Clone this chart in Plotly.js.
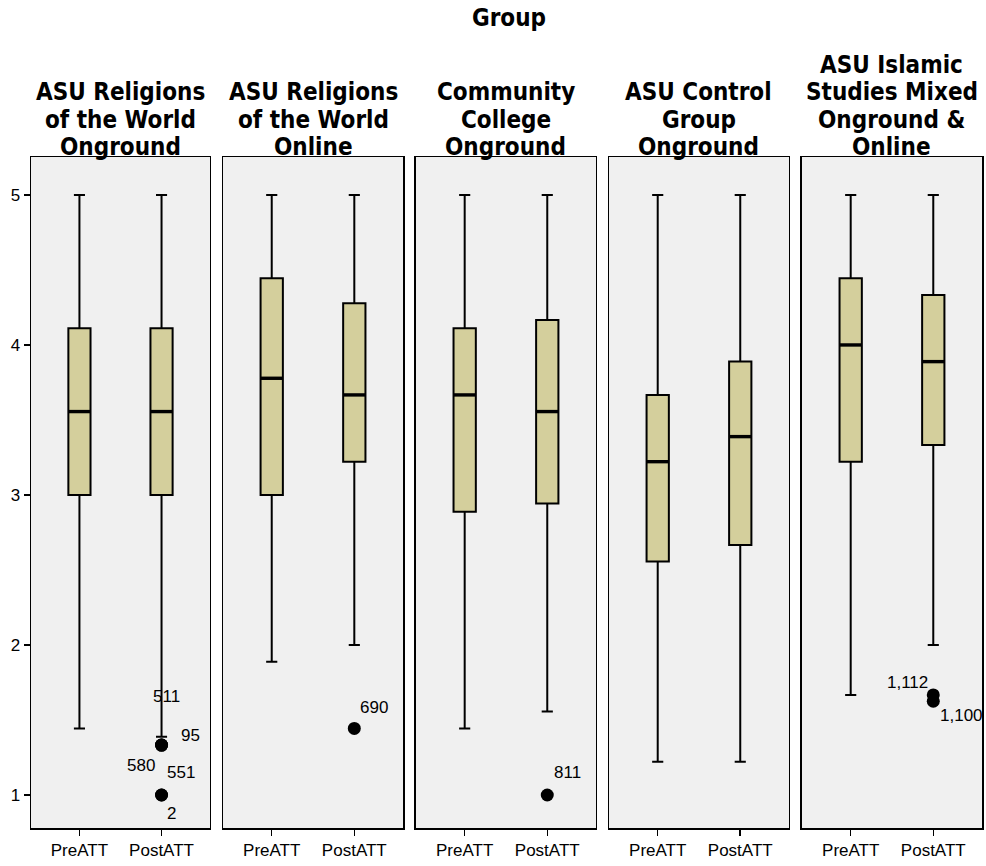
<!DOCTYPE html>
<html>
<head>
<meta charset="utf-8">
<script src="https://cdn.plot.ly/plotly-3.0.1.min.js"></script>
<style>
  html, body { margin: 0; padding: 0; background: #ffffff; }
  #chart { width: 986px; height: 866px; }
</style>
</head>
<body>
<div id="chart"></div>
<script>
// Attitude scores (PreATT / PostATT) by study group
const groups = [
  'ASU Religions<br>of the World<br>Onground',
  'ASU Religions<br>of the World<br>Online',
  'Community<br>College<br>Onground',
  'ASU Control<br>Group<br>Onground',
  'ASU Islamic<br>Studies Mixed<br>Onground &<br>Online'
];
const variables = ['PreATT', 'PostATT'];

// Box statistics for PreATT
const preLower  = [1.444, 1.889, 1.444, 1.222, 1.667];
const preQ1     = [3.000, 3.000, 2.889, 2.556, 3.222];
const preMedian = [3.556, 3.778, 3.667, 3.222, 4.000];
const preQ3     = [4.111, 4.444, 4.111, 3.667, 4.444];
const preUpper  = [5.000, 5.000, 5.000, 5.000, 5.000];

// Box statistics for PostATT
const postLower  = [1.389, 2.000, 1.556, 1.222, 2.000];
const postQ1     = [3.000, 3.222, 2.944, 2.667, 3.333];
const postMedian = [3.556, 3.667, 3.556, 3.389, 3.889];
const postQ3     = [4.111, 4.278, 4.167, 3.889, 4.333];
const postUpper  = [5.000, 5.000, 5.000, 5.000, 5.000];

// Outlying cases: panel index, variable index, value, case number
const outGroup = [0, 0, 0, 0, 0, 1, 2, 4, 4];
const outVar   = [1, 1, 1, 1, 1, 1, 1, 1, 1];
const outValue = [1.333, 1.333, 1.333, 1.000, 1.000, 1.444, 1.000, 1.667, 1.625];
const outCase  = ['511', '95', '580', '551', '2', '690', '811', '1,112', '1,100'];

// Label offsets (px) for each case number around its marker
const labelShift = [
  [5, 49], [29, 10], [-21, -20], [19, 23], [10, -18],
  [20, 21], [20, 23], [-26, 12], [28, -14]
];

const yRange = [0.78, 5.253];
const boxWidth = 0.27;
const fill = '#D4CF9C';
const textFont = 'DejaVu Sans Condensed, Liberation Sans Narrow, DejaVu Sans, sans-serif';
const tickFont = 'Liberation Sans, Arial, sans-serif';
const headingLineGap = 27.5;

// Panel domains in paper coordinates
const domains = [
  [0.0000, 0.1882],
  [0.2019, 0.3912],
  [0.4048, 0.5941],
  [0.6078, 0.7970],
  [0.8107, 1.0000]
];

const traces = [];
const layout = {
  width: 986, height: 866,
  margin: { l: 31, r: 4, t: 157, b: 38 },
  paper_bgcolor: '#ffffff',
  plot_bgcolor: '#F0F0F0',
  showlegend: false,
  annotations: []
};

groups.forEach((g, i) => {
  const xa = i === 0 ? 'x' : 'x' + (i + 1);
  const ya = i === 0 ? 'y' : 'y' + (i + 1);
  const stats = [
    [preLower[i], preQ1[i], preMedian[i], preQ3[i], preUpper[i]],
    [postLower[i], postQ1[i], postMedian[i], postQ3[i], postUpper[i]]
  ];
  stats.forEach((s, v) => {
    traces.push({
      type: 'box', xaxis: xa, yaxis: ya,
      x: [v],
      lowerfence: [s[0]], q1: [s[1]], median: [s[2]], q3: [s[3]], upperfence: [s[4]],
      width: boxWidth, whiskerwidth: 0.5,
      fillcolor: fill,
      line: { color: '#000000', width: 2 },
      boxpoints: false, hoverinfo: 'skip'
    });
    // Heavier median bar
    traces.push({
      type: 'scatter', mode: 'lines', xaxis: xa, yaxis: ya,
      x: [v - boxWidth / 2, v + boxWidth / 2], y: [s[2], s[2]],
      line: { color: '#000000', width: 3.4 }, hoverinfo: 'skip'
    });
  });

  // Outlier markers for this panel
  const ox = [], oy = [];
  outGroup.forEach((p, k) => {
    if (p === i) { ox.push(outVar[k]); oy.push(outValue[k]); }
  });
  if (ox.length) {
    traces.push({
      type: 'scatter', mode: 'markers', xaxis: xa, yaxis: ya,
      x: ox, y: oy,
      marker: { color: '#000000', size: 13 }, hoverinfo: 'skip'
    });
  }

  layout[i === 0 ? 'xaxis' : 'xaxis' + (i + 1)] = {
    domain: domains[i], anchor: ya,
    range: [-0.59, 1.59],
    tickvals: [0, 1], ticktext: variables,
    ticks: 'outside', ticklen: 6, tickwidth: 1.5, tickcolor: '#000000',
    tickfont: { family: tickFont, size: 17, color: '#000000' },
    showline: true, mirror: true, linecolor: '#000000', linewidth: 1.5,
    showgrid: false, zeroline: false, fixedrange: true
  };
  layout[i === 0 ? 'yaxis' : 'yaxis' + (i + 1)] = {
    anchor: xa, domain: [0, 1],
    range: yRange,
    tickvals: [1, 2, 3, 4, 5],
    ticks: i === 0 ? 'outside' : '', ticklen: 6, tickwidth: 1.5, tickcolor: '#000000',
    showticklabels: i === 0,
    tickfont: { family: tickFont, size: 17, color: '#000000' },
    showline: true, mirror: true, linecolor: '#000000', linewidth: 1.5,
    showgrid: false, zeroline: false, fixedrange: true
  };

  // Panel heading, one annotation per line for tighter leading
  const lines = g.split('<br>');
  lines.forEach((ln, j) => {
    const fromBottom = lines.length - 1 - j;
    layout.annotations.push({
      xref: 'paper', yref: 'paper',
      x: (domains[i][0] + domains[i][1]) / 2, y: 1,
      xanchor: 'center', yanchor: 'middle',
      yshift: 10 + headingLineGap * fromBottom,
      text: '<b>' + ln + '</b>', showarrow: false,
      font: { family: textFont, size: 24, color: '#000000' }
    });
  });
});

// Case-number labels beside outliers
outGroup.forEach((p, k) => {
  const xa = p === 0 ? 'x' : 'x' + (p + 1);
  const ya = p === 0 ? 'y' : 'y' + (p + 1);
  layout.annotations.push({
    xref: xa, yref: ya, x: outVar[k], y: outValue[k],
    text: outCase[k], showarrow: false,
    xshift: labelShift[k][0], yshift: labelShift[k][1],
    font: { family: tickFont, size: 17, color: '#000000' }
  });
});

// Overall heading
layout.annotations.push({
  xref: 'paper', yref: 'paper', x: 0.503, y: 1,
  xanchor: 'center', yanchor: 'middle', yshift: 139,
  text: '<b>Group</b>', showarrow: false,
  font: { family: textFont, size: 24, color: '#000000' }
});

Plotly.newPlot('chart', traces, layout, { staticPlot: true, displayModeBar: false });
</script>
</body>
</html>
